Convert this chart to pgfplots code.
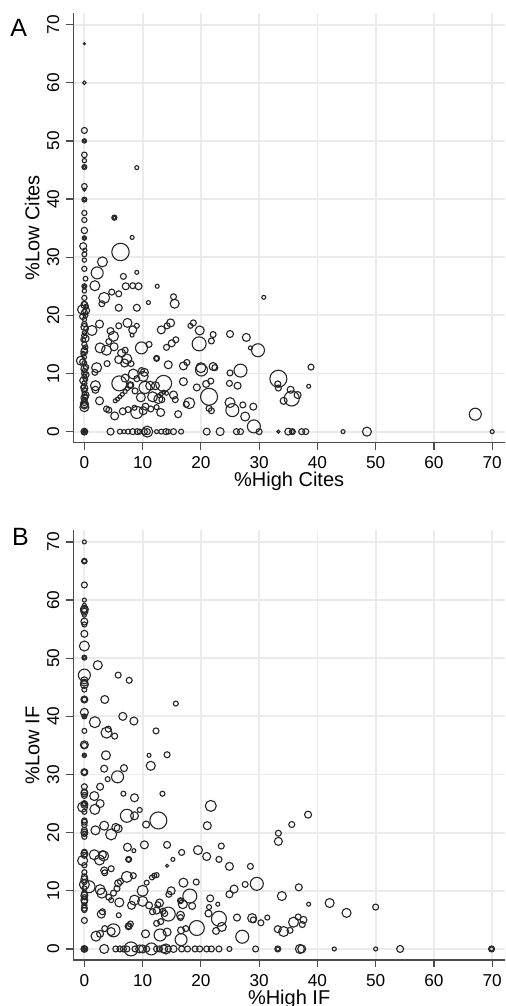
\documentclass[border=0pt]{standalone}
\usepackage{fontspec}
\setmainfont{Liberation Sans}
\usepackage{pgfplots}
\pgfplotsset{compat=1.18}

% one axis = 215.85pt wide; 1px of the reference = 0.5pt here
\pgfplotsset{
  panel/.style={
    width=215.85pt, height=214.85pt, scale only axis,
    xmin=-1.9, xmax=72.2, ymin=-1.9, ymax=72,
    xtick={0,10,...,70}, ytick={0,10,...,70},
    axis x line*=bottom, axis y line*=left,
    axis line style={black!70, line width=0.7pt},
    tick style={black!70, line width=0.6pt},
    tick align=outside, major tick length=3.5pt,
    grid=major, major grid style={black!8, line width=0.9pt},
    /pgf/number format/assume math mode=true,
    ticklabel style={font=\fontsize{8.6}{10}\selectfont},
    yticklabel style={rotate=90, anchor=south},
    label style={font=\fontsize{8.4}{10}\selectfont},
    every axis x label/.style={at={(axis description cs:0.5,-0.1024)}, anchor=base},
    every axis y label/.style={at={(axis description cs:-0.0788,0.5)}, rotate=90, anchor=base},
  },
  bubbles/.style={scatter, only marks, mark=o, line width=0.55pt,
    scatter/use mapped color={draw=black!85},
    visualization depends on={0.5*\thisrow{r} \as \msz},
    scatter/@pre marker code/.append style={/tikz/mark size=\msz}},
}

% r = circle radius in reference pixels
\pgfplotstableread{
x y r
0 66.7 1
0 60.0 1.8
0 51.8 3
0 50.0 2.2
0 50.0 1.4
0 47.6 2.8
0 46.6 2.2
0 45.5 2.5
0 45.5 1.7
0 42.2 2.8
0 41.6 1.5
0 39.9 2.5
0 39.9 1.6
0 37.6 2.6
0 36.4 2.6
0 34.6 3.2
0 33.3 2.2
0 33.3 1.4
-0.2 31.9 3.5
0.1 31.2 2
0 30.5 2.5
0 29.5 2.2
0 28.0 2.6
0.2 26.3 2.4
0 25.0 2.5
0 25.0 1.6
0 24.2 2.2
0 23.0 2.6
0 22.0 2.4
0.3 21.5 2.4
-0.4 21.0 4.5
0 20.5 3
0.2 20.0 2.4
0 19.3 2.2
0 18.5 2.6
0.3 17.7 2.4
0 17.0 2.2
0 16.5 2.8
-0.2 15.8 2.4
0 15.0 2.6
0.2 14.5 2.4
0 14.0 3
-0.2 13.4 2.4
0 12.8 2.2
-0.6 12.2 4.5
0 11.8 2.4
0.3 11.1 2.6
0 10.5 2.2
0 10.0 2.8
0 9.5 2.4
0.2 9.0 2.2
0 8.3 2.6
-0.2 7.7 2.4
0 7.1 2.8
0 6.6 2.2
0.2 6.0 2.6
0 5.5 2.4
0 5.0 3
0 4.5 3.5
0 4.2 4.5
0 21.8 3.5
0.3 20.8 3.5
-0.3 19.8 3
0 18.0 3.5
0.2 16.0 3.5
0 13.8 3.5
-0.3 12.0 3
0 10.8 3.5
0.3 9.8 3
-0.2 8.8 3.5
0 7.5 3.5
0.2 6.3 3.5
0 5.8 3.5
0 4.8 4
0 0 1
0 0 1.8
0 0 2.6
0 0 3.4
9.0 45.4 2
5.15 36.8 2.6
5.15 36.8 1.8
8.2 33.4 2
6.2 30.9 8.7
3.1 29.2 5
2.2 27.3 6
9.0 27.4 2
6.7 26.7 3
7.1 25.0 3.5
8.3 25.1 3
9.3 25.0 3.5
12.5 25.0 2
1.8 25.1 5
4.7 24.0 3
5.9 23.7 3
15.3 23.2 3
3.4 23.0 5.5
3.0 22.0 3
11.0 22.2 2
15.5 22.0 4.5
5.9 21.3 3.5
9.0 21.3 3.5
30.8 23.1 2
2.6 18.5 4
1.3 17.4 5
5.9 18.2 3
7.4 18.7 4.5
8.3 17.5 4
9.0 18.2 2.5
8.2 16.6 2
4.5 17.3 3.5
5.0 16.4 5
4.2 15.5 3
5.1 14.6 4
2.7 14.4 5
3.8 14.0 5
6.4 13.5 4
7.0 14.0 3
5.9 12.4 4
7.3 12.5 5
6.9 11.8 4
8.0 11.7 3
9.8 14.4 6
11.1 15.0 3
3.9 11.7 3
2.1 11.0 5
1.8 10.2 3
9.8 10.5 3
10.3 10.2 4
10.1 9.5 5
12.4 12.6 3
12.4 12.6 2.2
13.2 17.5 4
14.2 18.2 3
14.8 18.7 4
14.1 14.5 3
15.0 15.2 3.5
15.7 15.8 3
14.4 11.5 4
17.0 11.3 4
17.6 11.9 3
18.2 18.2 2.5
18.7 18.7 3
19.8 17.4 4.5
19.7 15.1 7
21.8 15.6 3
22.1 16.7 3
20.0 11.0 5
20.1 10.6 6
22.1 11.2 4
22.4 11.0 3
25.0 16.8 3.5
27.8 16.2 4
28.5 14.4 2
29.8 14.0 6.5
26.8 10.5 6.5
25.0 10.1 3
38.9 11.1 3
33.3 9.1 8.5
33.2 8.2 3
33.3 7.5 3
38.5 7.8 2
35.4 7.2 3.5
35.6 5.7 7.5
36.6 6.3 3.5
34.2 5.3 3.5
24.9 8.3 3
26.3 7.9 3.5
25.0 5.0 5
25.4 3.7 6.5
27.2 4.6 3
27.6 2.6 4.5
29.0 4.3 3.5
29.1 0.9 6.5
20.9 8.2 3.5
21.7 8.7 3
19.3 7.6 3.5
21.4 6.0 8.5
21.4 4.0 3
21.8 3.6 3
17.0 8.6 4
18.0 4.9 5.5
17.5 4.7 3
16.1 3.0 3.5
15.3 6.3 4
15.6 5.5 3
13.6 8.3 8
12.2 7.9 4
11.3 7.9 4.5
10.4 7.6 6
14.1 6.6 2
13.6 6.8 2
13.2 6.5 2
12.8 6.2 2
11.7 6.0 5
12.7 5.6 4.5
13.3 5.5 3
9.7 5.9 4.5
10.5 4.3 3.5
11.4 3.9 3
10.1 3.6 4
9.0 3.3 6
13.1 3.3 4
12.4 4.2 2.5
8.6 4.1 2.5
6.6 3.5 3.5
5.2 2.7 4
3.8 3.9 3
4.2 3.7 3
7.5 3.8 3
7.9 8.0 3.5
7.9 8.0 2.6
5.3 5.3 2
5.7 5.6 2
6.1 6.0 2
6.5 6.4 2
7.0 6.9 2
7.4 7.4 2
6.0 8.3 7.5
7.0 9.2 4
8.4 9.9 5
8.7 7.0 3
9.0 9.1 3
1.9 7.9 5
1.9 7.2 3.5
2.6 5.3 4
67.1 3.0 6
4.5 0 3.5
6.1 0 2.5
6.8 0 2
7.5 0 2.5
8.3 0 3
9.1 0 3
9.5 0 2.5
10.3 0 3
10.8 0 5.5
10.8 0 3
12.4 0 2
13.2 0 2.5
14.0 0 3
14.4 0 2.5
15.3 0 3
16.6 0 2.5
21.0 0 3.5
23.3 0 4
26.1 0 3
26.8 0 3
30.0 0 3
33.3 0 1.5
35.0 0 3.5
35.7 0 3
35.7 0 2
37.3 0 3
38.0 0 3
44.4 0 2
48.5 0 4.5
70.0 0 2
}\citesdata

\pgfplotstableread{
x y r
0 70.0 2
0 66.7 2.8
0 66.7 2
0 62.6 3
0 60.0 2
0 59.1 2
0 58.4 4
0 58.4 3
0 58.0 3.5
0 57.4 2
0 56.3 3.5
0 55.8 2.5
0 54.2 3.5
0 52.1 5
0 50.1 2.5
0 50.1 1.7
0 47.1 6
0 46.2 3.5
0 45.8 3.5
0 45.5 4
0 44.6 2.5
0 42.9 3.5
0 42.9 2.5
0 40.7 4
0 40.0 2.5
0 40.0 1.6
0 37.5 2.5
0 35.1 4
0 35.0 3
0 33.3 2.2
0 33.3 1.4
0 30.4 3.5
0 30.4 2.6
0 27.9 3
0 27.0 3
0 26.8 3.5
0 26.4 3
0 25.0 3
0 25.0 2
0 24.8 3.5
-0.3 24.4 5
0 23.6 2.6
0 22.1 2.6
0 21.8 3
0 21.3 2.6
0 20.4 3
0 20.0 3.5
0 19.8 2.6
0 19.3 2.6
0 16.7 2.6
0 16.4 3.5
0 16.1 3
-0.3 15.2 5
0 14.4 2.6
0 13.2 2.6
0 12.4 3
0 12.0 3.5
0 11.5 2.6
0 11.1 5
0 10.4 2.6
0.8 10.7 6
0 9.5 3
0 9.2 3.5
0 8.9 2.6
0 8.4 3.5
0 8.1 3
0 7.5 2.6
0 7.0 3
0 6.7 2.6
0 4.9 3
0 0 1
0 0 1.8
0 0 2.6
0 0 3.4
2.3 48.8 4.5
5.8 47.1 3
7.7 46.2 3
15.7 42.2 2.5
3.5 42.9 4
6.6 40.0 4
8.5 39.2 4
1.8 39.0 5.5
3.8 37.2 5.5
4.1 37.8 3
5.2 36.6 3
12.3 37.5 3
3.7 33.3 4.5
11.1 33.3 2
14.2 33.4 3
3.4 31.0 3.5
6.8 31.1 3.5
11.4 31.5 4.5
5.7 29.6 6
4.0 29.2 2.5
2.7 27.9 3.5
6.7 26.7 2.5
13.4 26.7 2.5
1.7 26.3 4.5
8.6 26.0 4
2.7 25.0 4
1.8 24.0 5
9.5 23.9 2.5
21.7 24.6 5.5
7.3 22.9 6.5
8.6 22.9 4
12.7 22.1 8.5
10.6 21.4 3.5
3.4 21.2 4.5
1.9 20.4 4.5
5.4 20.9 4
5.8 20.7 4
4.6 19.7 5.5
21.1 21.2 4
33.3 19.9 3
33.3 18.5 4
35.6 21.4 3
38.4 23.1 3.5
7.4 17.5 4
8.5 16.9 2
10.3 17.9 4
14.2 17.9 3.5
16.7 16.6 3
19.5 17.0 4.5
21.0 15.9 4
23.5 17.7 3
23.1 15.4 3
15.2 15.4 2
14.2 14.3 1.5
24.9 14.2 4
28.5 14.2 3
1.7 16.2 5
3.3 16.0 5
2.6 15.3 5
3.1 16.2 4
7.6 15.4 3
7.6 15.4 2.2
3.4 13.5 3.5
4.6 13.8 3
3.5 13.1 3
7.3 12.4 5.5
8.4 12.6 3
10.7 11.4 2.5
11.6 12.3 2.5
12.0 12.6 2.5
12.4 12.7 2.5
17.0 11.4 4.5
19.2 11.5 3
29.6 11.2 6.5
27.6 11.1 3
36.8 10.6 3.5
2.7 10.2 5
3.0 9.6 5
4.2 8.9 3
4.6 8.4 2.5
5.0 9.6 3
5.6 10.4 3
5.8 11.3 3.5
6.2 11.6 3
10.0 10.0 5.5
10.0 8.2 5
8.6 8.4 5
8.1 7.5 4
6.0 8.0 4.5
11.1 7.5 3.5
12.6 7.6 3
12.9 7.9 4
14.5 9.4 3
14.9 10.0 4
16.5 8.3 3
16.5 8.3 2.2
16.9 7.7 4.5
18.1 9.1 7
18.5 7.4 3.5
21.6 8.7 3.5
22.9 7.7 2
24.9 9.4 3.5
25.7 10.3 4
21.3 6.1 3.5
21.4 7.2 2.5
23.1 5.2 7.5
23.6 3.8 4.5
22.6 3.1 3.5
26.2 5.4 3.5
27.1 2.1 6.5
28.8 5.3 4.5
29.0 5.0 3
30.3 4.5 3
31.4 5.4 2.5
33.9 9.1 4.5
33.2 3.4 3.5
34.2 3.0 5
35.3 3.2 3
35.9 4.6 5
36.7 5.5 3
37.6 5.0 3.5
37.4 4.2 3
38.5 7.7 2
42.1 7.9 4.5
45.0 6.2 4.5
50.0 7.2 3
19.3 3.6 7.5
16.6 3.2 3.5
17.4 3.5 3
16.6 1.6 6
14.4 6.0 7
14.2 2.9 4
13.1 4.7 3
13.0 2.4 6
12.4 4.4 3
10.5 2.6 4
5.0 3.2 6.5
4.6 3.0 4
3.5 3.5 3
2.0 2.2 5
2.7 2.6 3.5
7.6 3.9 3.5
7.6 3.9 2.5
7.9 4.3 3
2.9 6.0 4
3.1 6.4 3
5.9 5.8 2.5
11.7 6.4 3
12.4 6.6 3.5
16.5 5.8 4
16.5 5.4 3
13.8 6.1 3
13.5 6.5 3
3.4 0 4.5
5.4 0 3
6.1 0 3
6.7 0 3
7.3 0 3
8.0 0 7
8.7 0 3
9.5 0 4
10.0 0 4
10.7 0 3
11.5 0 6
12.4 0 3
12.9 0 3
13.6 0 4
14.0 0 5
14.4 0 3
15.3 0 3.5
16.7 0 3
17.7 0 3
19.0 0 3
19.8 0 3
21.0 0 3
21.8 0 3
23.1 0 3
24.9 0 2.5
29.4 0 3
33.2 0 3
33.2 0 2
37.0 0 4.5
37.3 0 4
42.9 0 2
50.0 0 2
54.2 0 3.5
69.9 0 3
69.9 0 2
}\ifdata

\begin{document}
\begin{tikzpicture}
\begin{axis}[panel, name=pa, at={(0pt,258.65pt)},
  xlabel={\%High Cites}, ylabel={\%Low Cites}]
\addplot[bubbles] table[x=x, y=y] {\citesdata};
\end{axis}
\begin{axis}[panel, name=pb, at={(0pt,0pt)},
  xlabel={\%High IF}, ylabel={\%Low IF}]
\addplot[bubbles] table[x=x, y=y] {\ifdata};
\end{axis}
\node[anchor=base west, font=\fontsize{12.5}{14}\selectfont, inner sep=0pt]
  at ([xshift=-31.6pt, yshift=-12pt]pa.north west) {A};
\node[anchor=base west, font=\fontsize{12.5}{14}\selectfont, inner sep=0pt]
  at ([xshift=-30.8pt, yshift=-7.5pt]pb.north west) {B};
\pgfresetboundingbox
\path[use as bounding box] (-36.65pt,-23pt) rectangle (215.85pt,480pt);
\end{tikzpicture}
\end{document}
